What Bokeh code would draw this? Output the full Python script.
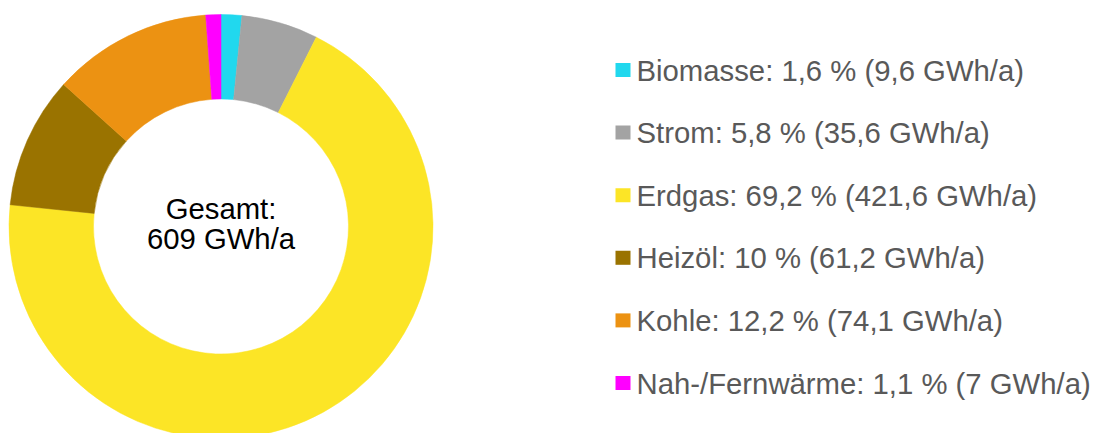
import numpy as np
from bokeh.plotting import figure
from bokeh.models import Range1d, ColumnDataSource
from bokeh.embed import file_html
from bokeh.resources import INLINE
from bokeh.core.properties import value

categories = ["Biomasse", "Strom", "Erdgas", "Heizöl", "Kohle", "Nah-/Fernwärme"]
gwh = [9.6, 35.6, 421.6, 61.2, 74.1, 7.0]
percent = [1.6, 5.8, 69.2, 10.0, 12.2, 1.1]
colors = ["#21D8EE", "#A3A3A3", "#FCE526", "#9A7300", "#EC9212", "#FF00FF"]
center_lines = ["Gesamt:", "609 GWh/a"]

def fmt(v):
    return f"{v:g}".replace(".", ",")

labels = [f"{c}: {fmt(p)} % ({fmt(g)} GWh/a)" for c, p, g in zip(categories, percent, gwh)]

W, H = 1095, 433
p = figure(width=W, height=H, x_range=Range1d(0, W), y_range=Range1d(0, H),
           output_backend="svg", toolbar_location=None,
           x_axis_location=None, y_axis_location=None, min_border=0)
p.outline_line_color = None
p.xgrid.visible = False
p.ygrid.visible = False
p.background_fill_color = "white"

vals = np.array(gwh)
cum = np.concatenate([[0], np.cumsum(vals)]) / vals.sum() * 2 * np.pi
start = np.pi / 2 - cum[:-1]
end = np.pi / 2 - cum[1:]
cx, cy = 220.5, 207
src = ColumnDataSource(dict(start=start, end=end, color=colors))
p.annular_wedge(x=cx, y=cy, inner_radius=127.5, outer_radius=212,
                inner_radius_units="screen", outer_radius_units="screen",
                start_angle="start", end_angle="end", direction="clock",
                fill_color="color", line_color="color", line_width=0.5, source=src)

p.text(x=[cx, cx], y=[433 - 208, 433 - 238], text=center_lines,
       text_font=value("Liberation Sans"), text_font_size="29.3px",
       text_color="black", text_align="center", text_baseline="middle")

n = len(categories)
ys = [433 - (69.5 + 62.6 * i) for i in range(n)]
p.rect(x=[622.5] * n, y=ys, width=15, height=14, width_units="screen",
       height_units="screen", fill_color=colors, line_color=None)
p.text(x=[636] * n, y=ys, text=labels, text_font=value("Liberation Sans"),
       text_font_size="29.3px", text_color="#595959", text_align="left",
       text_baseline="middle")

open("out.html", "w").write(file_html(p, INLINE))
